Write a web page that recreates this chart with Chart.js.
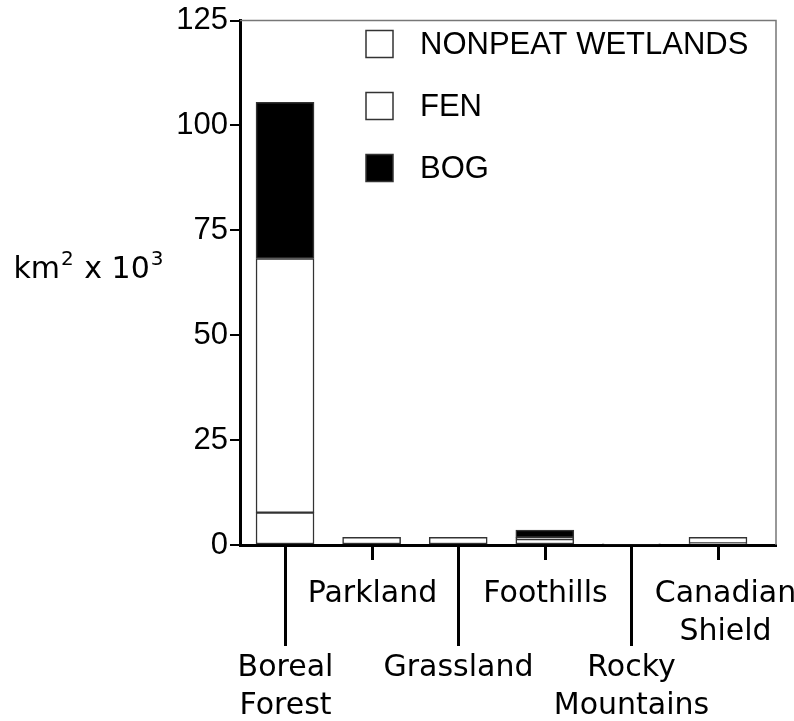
<!DOCTYPE html>
<html>
<head>
<meta charset="utf-8">
<script src="https://cdn.jsdelivr.net/npm/chart.js@4.4.0/dist/chart.umd.min.js"></script>
<style>
  html, body { margin: 0; padding: 0; background: #fff; }
  #wrap { width: 794px; height: 721px; position: relative; }
</style>
</head>
<body>
<div id="wrap"><canvas id="chart"></canvas></div>
<script>
// Wetland area by region (km² x 10³)
const regions = [['Boreal', 'Forest'], ['Parkland'], ['Grassland'], ['Foothills'], ['Rocky', 'Mountains'], ['Canadian', 'Shield']]
const nonpeat = [7.7, 1.8, 1.8, 1.4, 0.3, 0.35]
const fen = [60.6, 0, 0, 0.4, 0, 1.5]
const bog = [37.2, 0, 0, 1.75, 0, 0]
const seriesNames = ['NONPEAT WETLANDS', 'FEN', 'BOG']
const yTicks = [0, 25, 50, 75, 100, 125]
// title pieces: [text, superscript?]
const yTitleParts = [['km', false], ['2', true], [' x 10', false], ['3', true]]

const toPoints = arr => arr.map((v, i) => ({ x: i, y: v }))

const decorations = {
    id: 'decorations',
    afterDraw(chart) {
        const ctx = chart.ctx
        const area = chart.chartArea
        const xScale = chart.scales.x
        ctx.save()

        // thin grey frame on top and right
        ctx.strokeStyle = '#777'
        ctx.lineWidth = 1.5
        ctx.beginPath()
        ctx.moveTo(area.left, area.top)
        ctx.lineTo(area.right, area.top)
        ctx.lineTo(area.right, area.bottom)
        ctx.stroke()

        // y axis title, horizontal, with superscripts
        const big = '30px "DejaVu Sans"'
        const small = '20px "DejaVu Sans"'
        ctx.fillStyle = '#000'
        ctx.textAlign = 'left'
        ctx.textBaseline = 'alphabetic'
        let total = 0
        yTitleParts.forEach(([t, sup]) => {
            ctx.font = sup ? small : big
            total += ctx.measureText(t).width + (sup ? 2 : 0)
        })
        let tx = 89 - total / 2
        yTitleParts.forEach(([t, sup]) => {
            ctx.font = sup ? small : big
            ctx.fillText(t, tx + (sup ? 1 : 0), sup ? 265 : 278)
            tx += ctx.measureText(t).width + (sup ? 2 : 0)
        })

        // legend inside the plot
        const rowY = [44, 106, 168]
        chart.data.datasets.forEach((ds, i) => {
            const y = rowY[i]
            ctx.fillStyle = ds.backgroundColor
            ctx.fillRect(366, y - 13.5, 27, 27)
            ctx.strokeStyle = '#333'
            ctx.lineWidth = 1.5
            ctx.strokeRect(366, y - 13.5, 27, 27)
            ctx.fillStyle = '#000'
            ctx.font = '31px "Liberation Sans", Arial, sans-serif'
            ctx.textAlign = 'left'
            ctx.textBaseline = 'middle'
            ctx.fillText(ds.label, 420, y + 1)
        })

        // staggered category ticks and labels
        ctx.strokeStyle = '#000'
        ctx.lineWidth = 3
        ctx.fillStyle = '#000'
        ctx.font = '30px "DejaVu Sans"'
        ctx.textAlign = 'center'
        ctx.textBaseline = 'alphabetic'
        regions.forEach((lines, i) => {
            const x = Math.round(xScale.getPixelForValue(i)) + 0.5
            const low = i % 2 === 0
            ctx.beginPath()
            ctx.moveTo(x, area.bottom)
            ctx.lineTo(x, area.bottom + (low ? 101 : 15))
            ctx.stroke()
            const base = area.bottom + (low ? 131 : 57)
            lines.forEach((t, j) => {
                ctx.fillText(t, x + (i === 5 ? 7 : 0), base + j * 38)
            })
        })
        ctx.restore()
    }
}

const barStyle = {
    barThickness: 58,
    borderColor: '#333',
    borderWidth: 1.5,
    borderSkipped: false
}

new Chart(document.getElementById('chart'), {
    type: 'bar',
    data: {
        datasets: [
            { label: seriesNames[0], data: toPoints(nonpeat), backgroundColor: '#fff', ...barStyle },
            { label: seriesNames[1], data: toPoints(fen), backgroundColor: '#fff', ...barStyle },
            { label: seriesNames[2], data: toPoints(bog), backgroundColor: '#000', ...barStyle }
        ]
    },
    options: {
        responsive: true,
        maintainAspectRatio: false,
        animation: false,
        layout: { padding: { top: 19, right: 18, left: 0, bottom: 0 } },
        plugins: {
            legend: { display: false },
            tooltip: { enabled: false }
        },
        scales: {
            x: {
                type: 'linear',
                stacked: true,
                offset: false,
                min: -0.52,
                max: 5.67,
                grid: { display: false },
                ticks: { display: false },
                border: { display: true, color: '#000', width: 3 },
                afterFit: scale => { scale.height = 176 }
            },
            y: {
                stacked: true,
                min: 0,
                max: 125,
                afterBuildTicks: scale => { scale.ticks = yTicks.map(v => ({ value: v })) },
                ticks: {
                    color: '#000',
                    padding: 2,
                    font: { family: '"Liberation Sans", Arial, sans-serif', size: 31 }
                },
                grid: {
                    drawOnChartArea: false,
                    drawTicks: true,
                    tickLength: 10,
                    color: '#000',
                    lineWidth: 2
                },
                border: { display: true, color: '#000', width: 3 },
                afterFit: scale => { scale.width = 240 }
            }
        }
    },
    plugins: [decorations]
})
</script>
</body>
</html>
